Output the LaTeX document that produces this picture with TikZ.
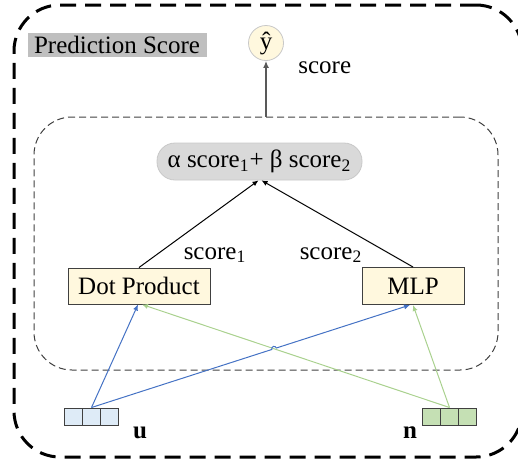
\documentclass[tikz,border=0pt]{standalone}
\usepackage{fontspec}
\setmainfont{Liberation Serif}
\usetikzlibrary{arrows.meta,calc,intersections}
\definecolor{boxyellow}{RGB}{255,248,222}
\definecolor{boxline}{RGB}{64,64,64}
\definecolor{pillgray}{RGB}{217,217,217}
\definecolor{pillline}{RGB}{200,200,200}
\definecolor{titlegray}{RGB}{191,191,191}
\definecolor{ucell}{RGB}{222,235,247}
\definecolor{ncell}{RGB}{197,224,180}
\definecolor{uline}{RGB}{68,114,196}
\definecolor{nline}{RGB}{169,209,142}
\definecolor{arrowgray}{RGB}{89,89,89}
\begin{document}
\begin{tikzpicture}[x=0.5pt, y=0.5pt, font=\fontsize{12.5}{15}\selectfont,
  outerbox/.style={draw=black, line width=1.5pt, dash pattern=on 8pt off 4.5pt,
    rounded corners=23pt, minimum width=254pt, minimum height=226pt, inner sep=0pt},
  innerbox/.style={draw=boxline, line width=0.5pt, dash pattern=on 3.5pt off 2pt,
    rounded corners=19pt, minimum width=232pt, minimum height=126.5pt, inner sep=0pt},
  stagebox/.style={draw=boxline, fill=boxyellow, line width=0.5pt, minimum height=18pt, inner sep=0pt},
  cell/.style={draw=boxline, line width=0.5pt, minimum width=9.15pt, minimum height=8.5pt, inner sep=0pt},
  blackarrow/.style={draw=black, line width=0.5pt, -{Latex[length=3pt,width=2.6pt]}},
  uarrow/.style={draw=uline, line width=0.5pt, -{Latex[length=3pt,width=2.6pt]}},
  narrow/.style={draw=nline, line width=0.5pt, -{Latex[length=3pt,width=2.6pt]}}]
\useasboundingbox (0,0) rectangle (518,463);
  \node[outerbox] (outer) at (268,232) {};
  \node[innerbox] (inner) at (266,219.5) {};
  % top part
  \node[fill=titlegray, minimum width=89.5pt, minimum height=12pt, inner sep=0pt] (title) at (117,418) {Prediction Score};
  \node[circle, draw=pillline, fill=boxyellow, minimum size=17.5pt, inner sep=0pt] (yhat) at (266,420) {ŷ};
  \draw[draw=arrowgray, line width=0.75pt, -{Latex[length=3.5pt,width=3pt]}] (inner.north) -- (yhat.south);
  \node[anchor=west, inner sep=0pt] (score) at (298,395) {score};
  % combination
  \node[draw=pillline, fill=pillgray, rounded corners=9pt, minimum width=102.5pt, minimum height=18.5pt, inner sep=0pt] (sum) at (259.5,301.5) {α score\textsubscript{1}+ β score\textsubscript{2}};
  \node[stagebox, minimum width=71pt] (dot) at (139,177) {Dot Product};
  \node[stagebox, minimum width=51pt, minimum height=18.5pt] (mlp) at (413,177) {MLP};
  \draw[blackarrow] (dot.north) -- ([xshift=-0.5pt]sum.south);
  \draw[blackarrow] (mlp.north) -- ([xshift=1pt]sum.south);
  \node (s1) at (215,208) {score\textsubscript{1}};
  \node (s2) at (331,208) {score\textsubscript{2}};
  % embeddings
  \node[cell, fill=ucell] (u1) at (73.2,46.5) {};
  \node[cell, fill=ucell] (u2) at (91.5,46.5) {};
  \node[cell, fill=ucell] (u3) at (109.8,46.5) {};
  \node[cell, fill=ncell] (n1) at (431.2,46.5) {};
  \node[cell, fill=ncell] (n2) at (449.5,46.5) {};
  \node[cell, fill=ncell] (n3) at (467.8,46.5) {};
  \node (ulabel) at (140,30) {\textbf{u}};
  \node (nlabel) at (410,30) {\textbf{n}};
  % connections with a hop
  \path[name path=bl] (u2.north) -- ([xshift=-1.5pt]mlp.south);
  \path[name path=gr] (n2.north) -- ([xshift=1.5pt]dot.south);
  \path[name intersections={of=bl and gr, by=hop}];
  \draw[uarrow] (u2.north) -- ([xshift=-0.5pt]dot.south);
  \draw[narrow] (n2.north) -- ([xshift=1.5pt]dot.south);
  \draw[narrow] (n2.north) -- (mlp.south);
  \draw[uarrow] (u2.north) -- ($(hop)!1.2pt!(u2.north)$) arc[start angle=198, end angle=18, radius=1.2pt] -- ([xshift=-1.5pt]mlp.south);
\end{tikzpicture}
\end{document}
